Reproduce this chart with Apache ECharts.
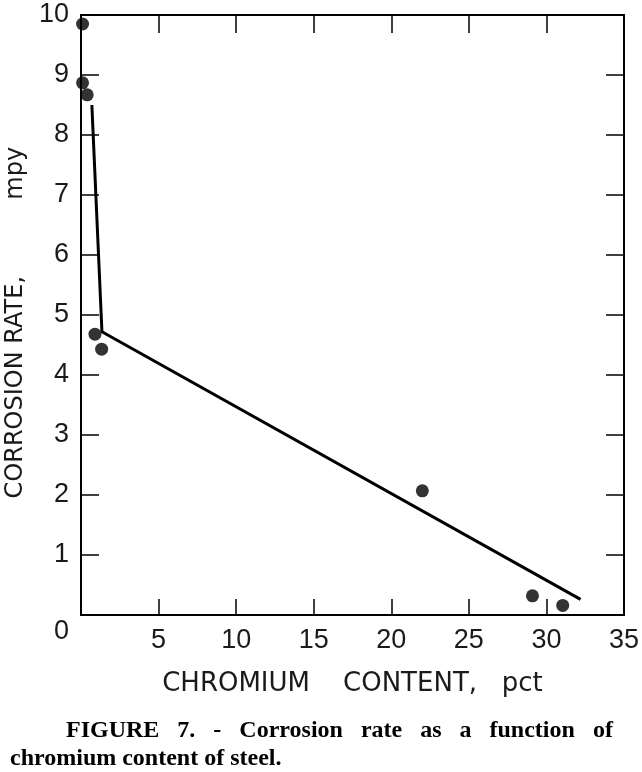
<!DOCTYPE html>
<html>
<head>
<meta charset="utf-8">
<script src="https://cdn.jsdelivr.net/npm/echarts@6/dist/echarts.min.js"></script>
<style>
html,body{margin:0;padding:0;background:#fff;}
#c{width:642px;height:772px;}
</style>
</head>
<body>
<div id="c"></div>
<script>
// Measured data points: chromium content (pct) vs corrosion rate (mpy)
const chromium = [0.1, 0.1, 0.4, 0.9, 1.33, 22.0, 29.1, 31.05];
const corrosion = [9.85, 8.87, 8.67, 4.68, 4.43, 2.07, 0.32, 0.16];
// Hand-drawn fit line vertices
const fitX = [0.7, 1.35, 32.2];
const fitY = [8.5, 4.72, 0.26];
const xTicks = [0, 5, 10, 15, 20, 25, 30, 35];
const yTicks = [0, 1, 2, 3, 4, 5, 6, 7, 8, 9, 10];
const xTitle = 'CHROMIUM    CONTENT,   pct';
const yTitle = 'CORROSION RATE,          mpy  ';
const caption1 = 'FIGURE   7.   -   Corrosion   rate   as   a   function   of';
const caption2 = 'chromium content of steel.';

const chart = echarts.init(document.getElementById('c'), null, {renderer: 'canvas'});
const ink = '#000';
const labelFont = {fontFamily: 'Liberation Sans', fontSize: 27, color: '#1a1a1a'};

const axisCommon = {
  axisLine: {show: true, onZero: false, lineStyle: {color: ink, width: 2}},
  splitLine: {show: false}
};

chart.setOption({
  backgroundColor: '#fff',
  animation: false,
  grid: {left: 81, right: 18, top: 15, bottom: 157, containLabel: false, outerBoundsMode: 'none'},
  xAxis: [
    Object.assign({}, axisCommon, {
      type: 'value', min: xTicks[0], max: xTicks[xTicks.length - 1], interval: 5,
      position: 'bottom',
      axisTick: {show: true, inside: true, length: 16, lineStyle: {color: ink, width: 1.5}},
      axisLabel: Object.assign({margin: 12, formatter: v => (v === 0 ? '' : String(v))}, labelFont),
      name: xTitle, nameLocation: 'middle', nameGap: 56,
      nameTextStyle: {fontFamily: 'DejaVu Sans', fontSize: 26, color: '#1a1a1a', verticalAlign: 'top'}
    }),
    Object.assign({}, axisCommon, {
      type: 'value', min: xTicks[0], max: xTicks[xTicks.length - 1], interval: 5,
      position: 'top',
      axisTick: {show: true, inside: true, length: 18, lineStyle: {color: ink, width: 1.5}},
      axisLabel: {show: false}
    })
  ],
  yAxis: [
    Object.assign({}, axisCommon, {
      type: 'value', min: yTicks[0], max: yTicks[yTicks.length - 1], interval: 1,
      position: 'left',
      axisTick: {show: true, inside: true, length: 18, lineStyle: {color: ink, width: 1.5}},
      axisLabel: Object.assign({
        margin: 12,
        formatter: v => (v === 0 ? '{z|0}' : String(v)),
        rich: {z: {fontFamily: 'Liberation Sans', fontSize: 27, color: '#1a1a1a', padding: [34, 0, 0, 0]}}
      }, labelFont),
      name: yTitle, nameLocation: 'middle', nameGap: 52, nameRotate: 90,
      nameTextStyle: {fontFamily: 'DejaVu Sans', fontSize: 24, color: '#1a1a1a'}
    }),
    Object.assign({}, axisCommon, {
      type: 'value', min: yTicks[0], max: yTicks[yTicks.length - 1], interval: 1,
      position: 'right',
      axisTick: {show: true, inside: true, length: 18, lineStyle: {color: ink, width: 1.5}},
      axisLabel: {show: false}
    })
  ],
  series: [
    {
      type: 'line', xAxisIndex: 0, yAxisIndex: 0,
      data: fitX.map((x, i) => [x, fitY[i]]),
      symbol: 'none', lineStyle: {color: ink, width: 3}, z: 2
    },
    {
      type: 'scatter', xAxisIndex: 0, yAxisIndex: 0,
      data: chromium.map((x, i) => [x, corrosion[i]]),
      symbol: 'circle', symbolSize: 13, itemStyle: {color: ink}, z: 3, clip: false
    }
  ],
  graphic: [
    {type: 'text', left: 66, top: 719, style: {text: caption1, font: 'bold 24px "Liberation Serif"', fill: '#000'}},
    {type: 'text', left: 10, top: 747, style: {text: caption2, font: 'bold 24px "Liberation Serif"', fill: '#000'}}
  ]
});
</script>
</body>
</html>
